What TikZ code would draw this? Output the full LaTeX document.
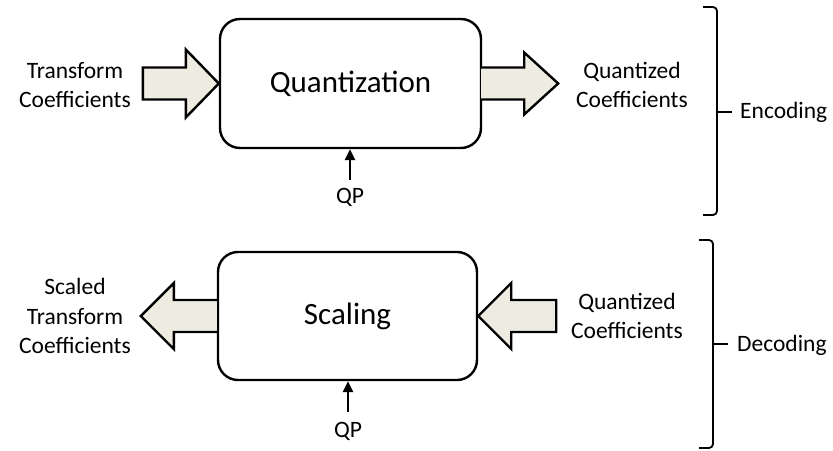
\documentclass[tikz,border=0pt]{standalone}
\usepackage{fontspec}
\setmainfont{Carlito}
\usetikzlibrary{arrows.meta}
\definecolor{arrowfill}{HTML}{EEECE1}
\tikzset{
  blockbox/.style={draw, line width=2.4pt, rounded corners=20pt, fill=white,
    font=\fontsize{31}{36}\selectfont},
  fatarrow/.style={draw, line width=2.4pt, fill=arrowfill, line join=miter},
  lbl/.style={align=center, font=\fontsize{23.5}{29.5}\selectfont, inner sep=0pt},
  qparrow/.style={line width=2.4pt, -{Triangle[length=11pt,width=10pt]}},
  bracepath/.style={line width=1.8pt, line join=round},
}
\begin{document}
\begin{tikzpicture}[x=1pt,y=-1pt]
\useasboundingbox (0,0) rectangle (833,450);
% boxes
\node[blockbox, minimum width=261pt, minimum height=129pt] (q) at (350.5,83.5) {Quantization};
\node[blockbox, minimum width=259pt, minimum height=128pt] (s) at (347.5,316) {Scaling};
% top-left fat arrow
\draw[fatarrow] (q.west) -- ++(-33,-34) -- ++(0,18) -- ++(-43,0) -- ++(0,32) -- ++(43,0) -- ++(0,18) -- cycle;
% top-right fat arrow
\draw[fatarrow] (q.east) ++(-1,-16) -- ++(43,0) -- ++(0,-15) -- ++(34,31) -- ++(-34,31) -- ++(0,-15) -- ++(-43,0);
% bottom-left fat arrow
\draw[fatarrow] (s.west) ++(0,-16) -- ++(-43,0) -- ++(0,-17) -- ++(-33,33) -- ++(33,33) -- ++(0,-17) -- ++(43,0);
% bottom-right fat arrow
\draw[fatarrow] (s.east) -- ++(33,-33) -- ++(0,17) -- ++(45,0) -- ++(0,32) -- ++(-45,0) -- ++(0,17) -- cycle;
% labels
\node[lbl] (tc) at (75,85) {Transform\\Coefficients};
\node[lbl] (qc) at (632,85) {Quantized\\Coefficients};
\node[lbl] (stc) at (75,316) {Scaled\\Transform\\Coefficients};
\node[lbl] (qc2) at (627,316) {Quantized\\Coefficients};
% QP
\node[lbl] (qp1) at (350,197) {QP};
\node[lbl] (qp2) at (348,431) {QP};
\coordinate (qp1t) at (350,180);
\coordinate (qp2t) at (348,412);
\draw[qparrow] (qp1t) -- (q.south -| qp1t);
\draw[qparrow] (qp2t) -- (s.south -| qp2t);
% braces
\coordinate (b1m) at (717,112);
\coordinate (b2m) at (713,344);
\draw[bracepath] (703,7) -- (713,7) to[out=0,in=90] (717,11) -- (717,211) to[out=-90,in=0] (713,215) -- (703,215);
\draw[bracepath] (b1m) -- ++(15,0);
\draw[bracepath] (699,240) -- (709,240) to[out=0,in=90] (713,244) -- (713,444) to[out=-90,in=0] (709,448) -- (699,448);
\draw[bracepath] (b2m) -- ++(15,0);
\node[lbl, anchor=west] (enc) at (740,112) {Encoding};
\node[lbl, anchor=west] (dec) at (737,345) {Decoding};
\end{tikzpicture}
\end{document}
